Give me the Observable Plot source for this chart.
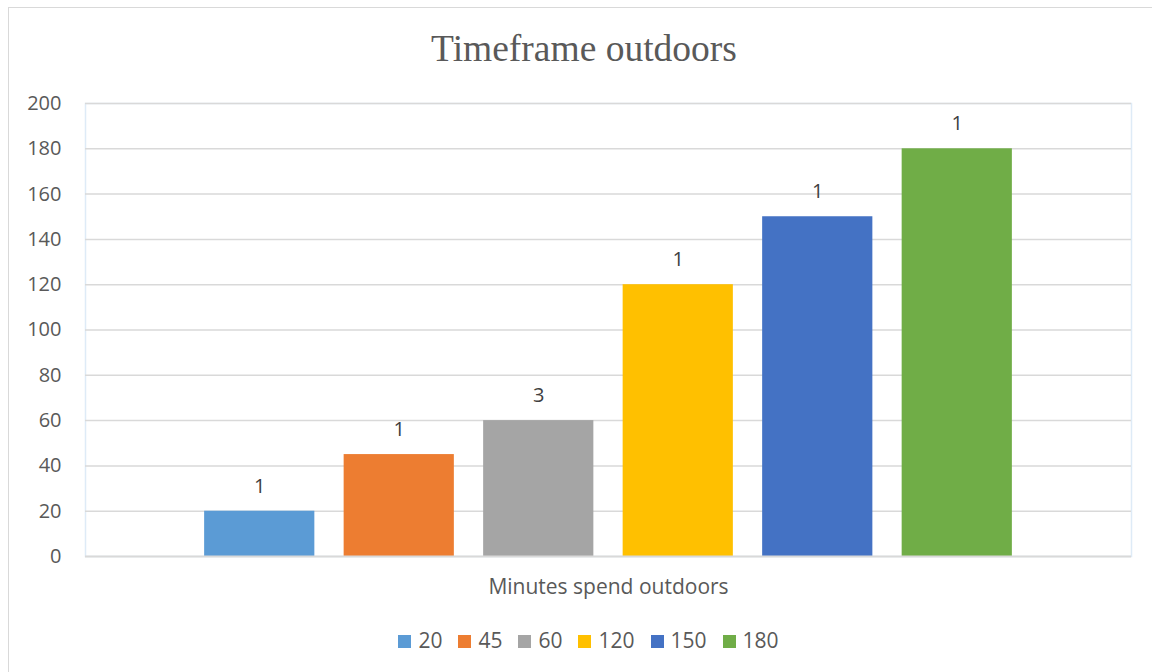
<!DOCTYPE html>
<html>
<head>
<meta charset="utf-8">
<script src="https://cdn.jsdelivr.net/npm/d3@7"></script>
<script src="https://cdn.jsdelivr.net/npm/@observablehq/plot@0.6"></script>
<style>
  html, body { margin: 0; padding: 0; background: #fff; }
  #wrap { position: relative; width: 1152px; height: 672px; overflow: hidden; background: #fff; font-family: "Open Sans", sans-serif; }
  #frame { position: absolute; left: 8px; top: 7px; width: 1200px; height: 720px; border: 1.5px solid #d9d9d9; box-sizing: border-box; }
  #title { position: absolute; left: 8px; width: 1152px; top: 27px; text-align: center; font-family: "Liberation Serif", serif; font-size: 37.5px; color: #595959; line-height: 44px; }
  #chart { position: absolute; left: 0; top: 0; }
  #legend { position: absolute; left: 0; width: 1177px; top: 626px; text-align: center; font-size: 21px; color: #595959; line-height: 28px; white-space: nowrap; }
  .item { display: inline-block; margin: 0 8px; }
  .sw { display: inline-block; width: 13px; height: 13px; margin-right: 7px; vertical-align: 0px; }
</style>
</head>
<body>
<div id="wrap">
  <div id="frame"></div>
  <div id="title"></div>
  <div id="chart"></div>
  <div id="legend"></div>
</div>
<script>
const title = "Timeframe outdoors";
const category = "Minutes spend outdoors";
const series = ["20", "45", "60", "120", "150", "180"];
const values = [20, 45, 60, 120, 150, 180];
const counts = [1, 1, 3, 1, 1, 1];
const colors = ["#5b9bd5", "#ed7d31", "#a5a5a5", "#ffc000", "#4472c4", "#70ad47"];
const yTicks = [0, 20, 40, 60, 80, 100, 120, 140, 160, 180, 200];

const data = series.map((s, i) => ({series: s, value: values[i], count: counts[i]}));

document.getElementById("title").textContent = title;

const chart = Plot.plot({
  width: 1152,
  height: 610,
  marginTop: 103,
  marginBottom: 54,
  marginLeft: 85,
  marginRight: 21,
  style: {fontFamily: "'Open Sans', sans-serif", fontSize: "20px", color: "#595959", background: "transparent"},
  x: {type: "band", domain: series, paddingInner: 0.21, paddingOuter: 0.854, round: false, axis: null},
  y: {domain: [0, 200], ticks: yTicks},
  color: {domain: series, range: colors},
  marks: [
    Plot.frame({stroke: "#deebf7", strokeWidth: 1.5}),
    Plot.ruleY(yTicks.filter(t => t > 0), {stroke: "#d9d9d9", strokeWidth: 1.5}),
    Plot.barY(data, {x: "series", y: "value", fill: "series"}),
    Plot.ruleY([0], {stroke: "#d9d9d9", strokeWidth: 2}),
    Plot.text(data, {x: "series", y: "value", text: d => String(d.count), dy: -25, fill: "#404040", fontSize: 20}),
    Plot.axisY(yTicks, {tickSize: 0, tickPadding: 24, label: null, fontSize: 20, fill: "#595959"}),
    Plot.text([category], {frameAnchor: "bottom", text: d => d, dy: 37, fill: "#595959", fontSize: 21})
  ]
});
document.getElementById("chart").appendChild(chart);

const legend = document.getElementById("legend");
series.forEach((s, i) => {
  const item = document.createElement("span");
  item.className = "item";
  const sw = document.createElement("span");
  sw.className = "sw";
  sw.style.background = colors[i];
  item.appendChild(sw);
  item.appendChild(document.createTextNode(s));
  legend.appendChild(item);
});
</script>
</body>
</html>
